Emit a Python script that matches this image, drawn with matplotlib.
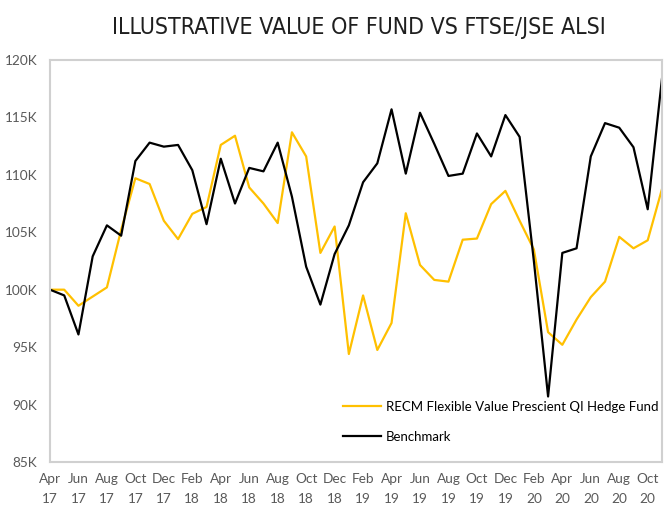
import matplotlib
matplotlib.use("Agg")
import matplotlib.pyplot as plt
from matplotlib.ticker import FuncFormatter

# monthly values in thousands, Apr 2017 .. Nov 2020
fund = [100.0, 100.0, 98.6, 99.4, 100.2, 105.2, 109.7, 109.2, 106.0, 104.4,
        106.6, 107.2, 112.6, 113.4, 108.9, 107.5, 105.8, 113.7, 111.6, 103.2,
        105.5, 94.4, 99.5, 94.75, 97.1, 106.65, 102.15, 100.85, 100.7, 104.35,
        104.45, 107.45, 108.6, 106.0, 103.5, 96.3, 95.2, 97.4, 99.35, 100.7,
        104.6, 103.6, 104.3, 108.75]
bench = [100.0, 99.5, 96.1, 102.9, 105.6, 104.7, 111.2, 112.8, 112.45, 112.6,
         110.4, 105.7, 111.4, 107.5, 110.6, 110.3, 112.8, 108.1, 102.0, 98.7,
         103.1, 105.6, 109.35, 111.0, 115.7, 110.1, 115.4, 112.7, 109.9, 110.1,
         113.6, 111.6, 115.2, 113.3, 102.5, 90.7, 103.2, 103.6, 111.6, 114.5,
         114.1, 112.4, 107.0, 118.35]
tick_labels = ["Apr\n17", "Jun\n17", "Aug\n17", "Oct\n17", "Dec\n17",
               "Feb\n18", "Apr\n18", "Jun\n18", "Aug\n18", "Oct\n18", "Dec\n18",
               "Feb\n19", "Apr\n19", "Jun\n19", "Aug\n19", "Oct\n19", "Dec\n19",
               "Feb\n20", "Apr\n20", "Jun\n20", "Aug\n20", "Oct\n20"]
y_ticks = [85, 90, 95, 100, 105, 110, 115, 120]

fund_name = "RECM Flexible Value Prescient QI Hedge Fund"
bench_name = "Benchmark"
title = "ILLUSTRATIVE VALUE OF FUND VS FTSE/JSE ALSI"

plt.rcParams["font.family"] = ["Lato", "DejaVu Sans"]

fig = plt.figure(figsize=(6.71, 5.07), dpi=100)
ax = fig.add_axes([0.0745, 0.0888, 0.912, 0.793])

x = list(range(len(fund)))
ax.plot(x, fund, color="#FFC000", lw=1.6, label=fund_name)
ax.plot(x, bench, color="black", lw=1.6, label=bench_name)

ax.set_xlim(0, len(fund) - 1)
ax.set_ylim(85, 120)
ax.set_yticks(y_ticks)
ax.yaxis.set_major_formatter(FuncFormatter(lambda v, p: f"{v:.0f}K"))
ax.set_xticks(range(0, len(fund), 2))
ax.set_xticklabels(tick_labels, linespacing=1.8)

ax.tick_params(length=0, labelsize=9.8, labelcolor="#595959")
ax.tick_params(axis="y", pad=9)
ax.tick_params(axis="x", pad=8)
for s in ax.spines.values():
    s.set_color("#d0d0d0")
    s.set_linewidth(1.5)

ax.legend(loc="center left", bbox_to_anchor=(0.479, 0.10), frameon=False,
          fontsize=9.5, handlelength=2.9, handletextpad=0.35,
          labelspacing=1.35, borderpad=0, borderaxespad=0)

fig.text(0.535, 0.945, title, ha="center", va="center", fontsize=16.6,
         color="#1f1f1f", fontstretch="condensed", family="DejaVu Sans")

fig.savefig("out.png", dpi=100)
